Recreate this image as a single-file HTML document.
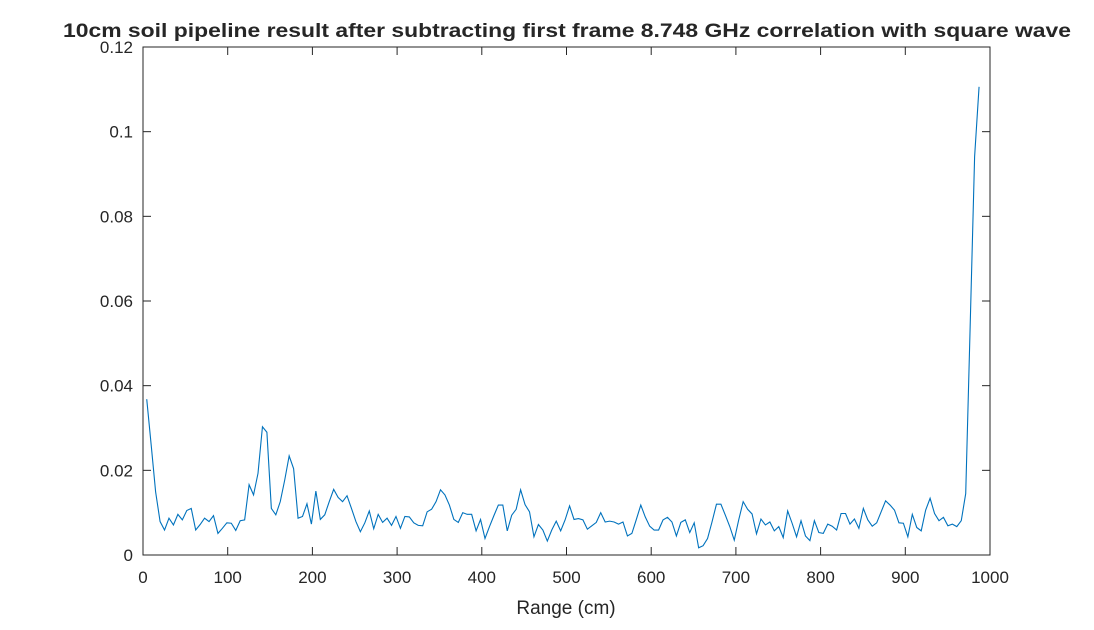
<!DOCTYPE html>
<html><head><meta charset="utf-8"><style>
body{margin:0;background:#fff;}
svg text{font-family:"Liberation Sans",Arial,sans-serif;fill:#262626;}
</style></head><body>
<svg id="chart" width="1094" height="625" xmlns="http://www.w3.org/2000/svg">
<rect width="1094" height="625" fill="#fff"/>
<text x="567" y="37" text-anchor="middle" font-size="19" font-weight="bold" fill="#000" textLength="1008" lengthAdjust="spacingAndGlyphs">10cm soil pipeline result after subtracting first frame 8.748 GHz correlation with square wave</text>
<g id="axes"></g>
<polyline id="series" fill="none" stroke="#0072BD" stroke-width="1.1"/>
<rect x="143" y="47" width="847" height="508" fill="none" stroke="#262626" stroke-width="1"/>
<text x="566" y="614" text-anchor="middle" font-size="19">Range (cm)</text>
</svg>
<script>
const xTicks=[0,100,200,300,400,500,600,700,800,900,1000];
const yTicks=[0,0.02,0.04,0.06,0.08,0.1,0.12];
const yTickLabels=["0","0.02","0.04","0.06","0.08","0.1","0.12"];
const rangeStart=4.4, rangeStep=5.255;
const values=[0.0368,0.026,0.0149,0.0079,0.0059,0.0087,0.0071,0.0096,0.0083,0.0105,0.011,0.0059,0.0072,0.0087,0.0079,0.0093,0.0051,0.0063,0.0076,0.0075,0.0058,0.0081,0.0083,0.0166,0.0142,0.0193,0.0303,0.029,0.011,0.0095,0.0126,0.0177,0.0234,0.0204,0.0087,0.0091,0.0121,0.0073,0.0151,0.0084,0.0095,0.0126,0.0155,0.0136,0.0126,0.014,0.011,0.0079,0.0055,0.0076,0.0104,0.0062,0.0096,0.0077,0.0087,0.007,0.0091,0.0063,0.0091,0.009,0.0076,0.007,0.0069,0.0102,
0.0108,0.0126,0.0154,0.0142,0.0118,0.0084,0.0077,0.01,0.0096,0.0096,0.0057,0.0084,0.0039,0.0067,0.0093,0.0118,0.0118,0.0057,0.0094,0.0108,0.0154,0.0119,0.0102,0.0043,0.0072,0.0059,0.0033,0.0059,0.008,0.0057,0.0083,0.0116,0.0084,0.0086,0.0083,0.0061,0.0069,0.0077,0.01,0.0078,0.008,0.0078,0.0073,0.0078,0.0045,0.0051,0.0084,0.0118,0.009,0.0068,0.0059,0.0059,0.0083,0.0089,0.0078,0.0045,0.0077,0.0083,0.0053,0.0076,0.0017,0.0022,0.0039,
0.0078,0.012,0.012,0.0094,0.0067,0.0035,0.0083,0.0126,0.0108,0.0097,0.005,0.0085,0.0071,0.0078,0.0057,0.0067,0.0041,0.0104,0.0075,0.0043,0.0081,0.0045,0.0034,0.0081,0.0053,0.0051,0.0073,0.0068,0.0059,0.0098,0.0098,0.0073,0.0085,0.0063,0.011,0.0083,0.0068,0.0076,0.0102,0.0128,0.0118,0.0106,0.0076,0.0075,0.0043,0.0096,0.0065,0.0057,0.0106,0.0134,0.0098,0.0081,0.0089,0.0069,0.0073,0.0067,0.0081,0.0145,0.054,0.0941,0.1106];
const X0=143,X1=990,Y0=555,Y1=47;
const xs=v=>X0+(v-0)/(1000-0)*(X1-X0);
const ys=v=>Y0-(v-0)/(0.12-0)*(Y0-Y1);
const NS="http://www.w3.org/2000/svg";
const g=document.getElementById('axes');
function mk(tag,attrs){const e=document.createElementNS(NS,tag);for(const k in attrs)e.setAttribute(k,attrs[k]);return e;}
xTicks.forEach(t=>{
  const x=xs(t);
  const l1=mk('line',{x1:x,x2:x,y1:Y0,y2:Y0-8,stroke:'#262626'});
  
  
  g.appendChild(l1);
  const l2=mk('line',{x1:x,x2:x,y1:Y1,y2:Y1+8,stroke:'#262626'});
  
  
  g.appendChild(l2);
  const tx=mk('text',{x:x,y:583,'text-anchor':'middle','font-size':'17'});
  tx.textContent=t;
  
  
  g.appendChild(tx);
});
yTicks.forEach((t,i)=>{
  const y=ys(t);
  const l1=mk('line',{x1:X0,x2:X0+8,y1:y,y2:y,stroke:'#262626'});
  
  
  g.appendChild(l1);
  const l2=mk('line',{x1:X1,x2:X1-8,y1:y,y2:y,stroke:'#262626'});
  
  
  g.appendChild(l2);
  const tx=mk('text',{x:133,y:y+6,'text-anchor':'end','font-size':'17'});
  tx.textContent=yTickLabels[i];
  
  
  g.appendChild(tx);
});
document.getElementById('series').setAttribute('points',values.map((v,i)=>xs(rangeStart+i*rangeStep).toFixed(2)+','+ys(v).toFixed(2)).join(' '));
</script>
</body></html>
